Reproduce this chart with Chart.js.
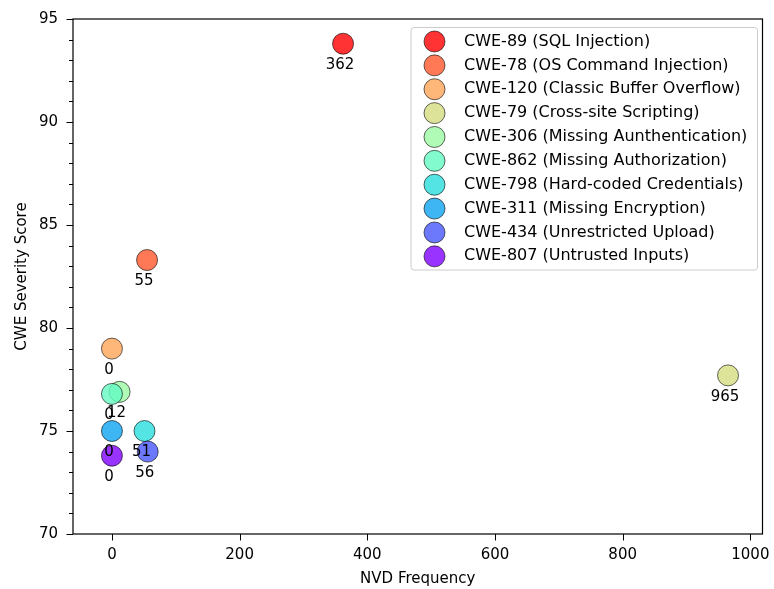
<!DOCTYPE html>
<html>
<head>
<meta charset="utf-8">
<script src="https://cdn.jsdelivr.net/npm/chart.js@4/dist/chart.umd.min.js"></script>
<style>
  html, body { margin: 0; padding: 0; background: #fff; }
  #wrap { width: 774px; height: 589px; }
</style>
</head>
<body>
<div id="wrap"><canvas id="myChart" width="774" height="589"></canvas></div>
<script>
// data
var cweNames = [
  'CWE-89 (SQL Injection)',
  'CWE-78 (OS Command Injection)',
  'CWE-120 (Classic Buffer Overflow)',
  'CWE-79 (Cross-site Scripting)',
  'CWE-306 (Missing Aunthentication)',
  'CWE-862 (Missing Authorization)',
  'CWE-798 (Hard-coded Credentials)',
  'CWE-311 (Missing Encryption)',
  'CWE-434 (Unrestricted Upload)',
  'CWE-807 (Untrusted Inputs)'
];
var nvdFreq = [362, 55, 0, 965, 12, 0, 51, 0, 56, 0];
var severity = [93.8, 83.3, 79.0, 77.7, 76.9, 76.8, 75.0, 75.0, 74.0, 73.8];

// rainbow colormap, reversed, alpha 0.8
var colors = [
  'rgba(255,0,0,0.8)',
  'rgba(255,87,44,0.8)',
  'rgba(255,164,87,0.8)',
  'rgba(212,221,128,0.8)',
  'rgba(156,251,164,0.8)',
  'rgba(99,251,195,0.8)',
  'rgba(43,221,221,0.8)',
  'rgba(14,164,240,0.8)',
  'rgba(71,87,251,0.8)',
  'rgba(128,0,255,0.8)'
];

var FONT = '"DejaVu Sans", sans-serif';
var edge = 'rgba(0,0,0,0.6)';

var datasets = [];
for (var i = 0; i < cweNames.length; i++) {
  datasets.push({
    label: cweNames[i],
    data: [{x: nvdFreq[i], y: severity[i]}],
    backgroundColor: colors[i],
    borderColor: edge,
    borderWidth: 1,
    pointRadius: 10.5,
    pointHoverRadius: 10.5,
    order: cweNames.length - i
  });
}

// frame + ticks (major/minor)
var framePlugin = {
  id: 'frame',
  afterDraw: function(chart) {
    var ctx = chart.ctx, a = chart.chartArea;
    var xs = chart.scales.x, ys = chart.scales.y;
    ctx.save();
    ctx.strokeStyle = '#000';
    ctx.lineWidth = 1;
    xs.ticks.forEach(function(t) {
      var px = Math.round(xs.getPixelForValue(t.value)) + 0.5;
      ctx.beginPath(); ctx.moveTo(px, a.bottom); ctx.lineTo(px, a.bottom + 6.5); ctx.stroke();
    });
    for (var v = 70; v <= 95; v++) {
      var py = Math.round(ys.getPixelForValue(v)) + 0.5;
      var len = (v % 5 === 0) ? 6.5 : 4;
      ctx.beginPath(); ctx.moveTo(a.left, py); ctx.lineTo(a.left - len, py); ctx.stroke();
    }
    ctx.lineWidth = 1.2;
    ctx.strokeRect(a.left, a.top, a.right - a.left, a.bottom - a.top);
    ctx.restore();
  }
};

// frequency labels under each point
var labelPlugin = {
  id: 'pointLabels',
  afterDatasetsDraw: function(chart) {
    var ctx = chart.ctx;
    ctx.save();
    ctx.font = '15px ' + FONT;
    ctx.fillStyle = '#000';
    ctx.textAlign = 'center';
    ctx.textBaseline = 'middle';
    chart.data.datasets.forEach(function(ds, i) {
      var pt = chart.getDatasetMeta(i).data[0];
      ctx.fillText(String(nvdFreq[i]), pt.x - 3, pt.y + 21.5);
    });
    ctx.restore();
  }
};

// legend box inside the plot, top right
var legendPlugin = {
  id: 'boxLegend',
  afterDraw: function(chart) {
    var ctx = chart.ctx, a = chart.chartArea;
    var right = a.right - 5, top = a.top + 8.5;
    var left = right - 346.5, bottom = top + 242.5;
    ctx.save();
    ctx.beginPath();
    ctx.roundRect(left, top, right - left, bottom - top, 3);
    ctx.fillStyle = 'rgba(255,255,255,0.8)';
    ctx.fill();
    ctx.strokeStyle = '#cccccc';
    ctx.lineWidth = 1;
    ctx.stroke();
    ctx.font = '16px ' + FONT;
    ctx.textBaseline = 'middle';
    ctx.textAlign = 'left';
    for (var i = 0; i < cweNames.length; i++) {
      var cy = top + 14 + i * 23.87;
      ctx.beginPath();
      ctx.arc(left + 23.5, cy, 10.5, 0, Math.PI * 2);
      ctx.fillStyle = colors[i];
      ctx.fill();
      ctx.strokeStyle = edge;
      ctx.stroke();
      ctx.fillStyle = '#000';
      ctx.fillText(cweNames[i], left + 53, cy);
    }
    ctx.restore();
  }
};

var ctx = document.getElementById('myChart');
var myChart = new Chart(ctx, {
  type: 'scatter',
  data: { datasets: datasets },
  options: {
    responsive: false,
    devicePixelRatio: 1,
    animation: false,
    layout: { padding: { top: 19, right: 10, left: 0, bottom: 0 } },
    plugins: {
      legend: { display: false },
      tooltip: { enabled: false }
    },
    scales: {
      x: {
        type: 'linear',
        min: -61,
        max: 1019,
        grid: { display: false, drawTicks: false },
        border: { display: false },
        ticks: {
          stepSize: 200,
          includeBounds: false,
          padding: 12,
          color: '#000',
          font: { family: FONT, size: 15 },
          callback: function(v) { return String(v); }
        },
        title: {
          display: true,
          text: 'NVD Frequency',
          color: '#000',
          font: { family: FONT, size: 15 },
          padding: { top: 0, bottom: 1 }
        },
        afterFit: function(scale) {
          scale.height = 55;
          scale.paddingLeft = 0;
          scale.paddingRight = 0;
        }
      },
      y: {
        type: 'linear',
        min: 70,
        max: 95,
        grid: { display: false, drawTicks: false },
        border: { display: false },
        ticks: {
          stepSize: 5,
          padding: 15,
          color: '#000',
          font: { family: FONT, size: 15 }
        },
        title: {
          display: true,
          text: 'CWE Severity Score',
          color: '#000',
          font: { family: FONT, size: 15 },
          padding: { top: 13, bottom: 0 }
        },
        afterFit: function(scale) {
          scale.width = 73;
          scale.paddingTop = 0;
          scale.paddingBottom = 0;
        }
      }
    }
  },
  plugins: [labelPlugin, framePlugin, legendPlugin]
});
</script>
</body>
</html>
